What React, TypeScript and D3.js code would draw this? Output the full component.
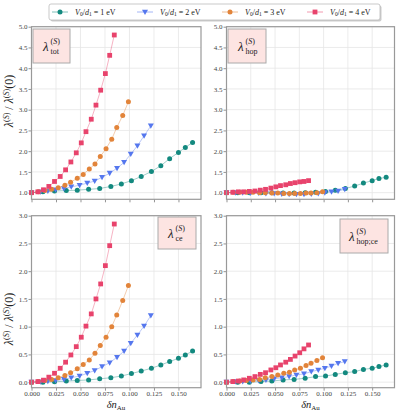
import React, { useEffect, useRef } from 'react';
import * as d3 from 'd3';

// x positions (delta n_Au) of each series
const xTeal = [0, 0.0116, 0.0235, 0.0355, 0.0467, 0.0583, 0.0696, 0.081, 0.0917, 0.102, 0.112, 0.1224, 0.132, 0.141, 0.150, 0.157, 0.1644];
const xBlue = [0, 0.0092, 0.0167, 0.0246, 0.0331, 0.0406, 0.0491, 0.0569, 0.0645, 0.072, 0.0798, 0.0873, 0.0945, 0.1013, 0.1081, 0.1149, 0.1218];
const xOrange = [0, 0.0068, 0.0136, 0.0205, 0.0273, 0.0341, 0.0399, 0.0467, 0.0528, 0.059, 0.0648, 0.0702, 0.0761, 0.0819, 0.087, 0.0931, 0.0989];
const xRed = [0, 0.0065, 0.0122, 0.0177, 0.0235, 0.0293, 0.0348, 0.0402, 0.0457, 0.0508, 0.0556, 0.061, 0.0658, 0.0706, 0.0754, 0.0798, 0.0845];

// lambda_tot
const totTeal = [1.0, 1.02, 1.04, 1.05, 1.06, 1.08, 1.10, 1.15, 1.21, 1.29, 1.39, 1.51, 1.65, 1.82, 1.97, 2.09, 2.21];
const totBlue = [1.0, 1.02, 1.04, 1.07, 1.10, 1.14, 1.18, 1.23, 1.28, 1.37, 1.47, 1.59, 1.73, 1.93, 2.13, 2.37, 2.61];
const totOrange = [1.0, 1.02, 1.05, 1.08, 1.12, 1.18, 1.25, 1.35, 1.44, 1.57, 1.69, 1.87, 2.06, 2.29, 2.57, 2.86, 3.19];
const totRed = [1.0, 1.02, 1.07, 1.15, 1.27, 1.39, 1.55, 1.74, 1.96, 2.20, 2.47, 2.77, 3.11, 3.47, 3.87, 4.31, 4.80];

// lambda_hop
const hopTeal = [1.0, 1.0, 1.0, 1.0, 1.0, 0.99, 0.99, 1.0, 1.01, 1.03, 1.06, 1.10, 1.16, 1.23, 1.29, 1.34, 1.37];
const hopBlue = [1.0, 1.0, 1.0, 0.99, 0.99, 0.98, 0.98, 0.97, 0.96, 0.96, 0.96, 0.97, 0.98, 1.0, 1.02, 1.04, 1.08];
const hopOrange = [1.0, 1.01, 1.01, 1.01, 1.01, 1.0, 1.0, 0.99, 0.99, 0.98, 0.98, 0.98, 0.98, 0.99, 0.99, 1.0, 1.02];
const hopRed = [1.0, 1.01, 1.02, 1.02, 1.03, 1.04, 1.06, 1.08, 1.11, 1.14, 1.17, 1.19, 1.22, 1.24, 1.26, 1.27, 1.29];

// lambda_ce
const ceTeal = [0, 0, 0.005, 0.02, 0.03, 0.04, 0.06, 0.08, 0.11, 0.155, 0.20, 0.25, 0.31, 0.37, 0.43, 0.49, 0.56];
const ceBlue = [0, 0.005, 0.015, 0.03, 0.05, 0.08, 0.11, 0.16, 0.21, 0.28, 0.35, 0.45, 0.56, 0.70, 0.85, 1.01, 1.20];
const ceOrange = [0, 0.01, 0.03, 0.05, 0.08, 0.12, 0.17, 0.24, 0.32, 0.40, 0.52, 0.66, 0.81, 1.00, 1.21, 1.47, 1.74];
const ceRed = [0, 0.01, 0.036, 0.09, 0.16, 0.25, 0.36, 0.49, 0.64, 0.81, 1.01, 1.23, 1.50, 1.77, 2.10, 2.46, 2.85];

// lambda_hop;ce
const hopceTeal = [0, 0, 0, 0.01, 0.02, 0.04, 0.05, 0.07, 0.10, 0.11, 0.14, 0.17, 0.19, 0.23, 0.25, 0.28, 0.31];
const hopceBlue = [0, 0.01, 0.01, 0.02, 0.03, 0.04, 0.06, 0.08, 0.10, 0.13, 0.15, 0.19, 0.22, 0.25, 0.29, 0.34, 0.37];
const hopceOrange = [0, 0.01, 0.02, 0.03, 0.04, 0.05, 0.08, 0.10, 0.13, 0.16, 0.18, 0.22, 0.25, 0.30, 0.34, 0.39, 0.44];
const hopceRed = [0, 0.01, 0.02, 0.04, 0.07, 0.10, 0.14, 0.17, 0.22, 0.26, 0.31, 0.36, 0.41, 0.47, 0.53, 0.60, 0.67];

const seriesNames = ['1', '2', '3', '4'];
const seriesColors = ['#13897f', '#5577ee', '#e2843a', '#e8436c'];
const seriesMarkers = ['circle', 'triangle', 'circle', 'square'];
const seriesX = [xTeal, xBlue, xOrange, xRed];

const xTicks = [0, 0.025, 0.05, 0.075, 0.1, 0.125, 0.15];
const topYTicks = [1.0, 1.5, 2.0, 2.5, 3.0, 3.5, 4.0, 4.5, 5.0];
const bottomYTicks = [0.0, 0.5, 1.0, 1.5, 2.0, 2.5, 3.0];

const SERIF = '"Liberation Serif", "DejaVu Serif", serif';

const App = () => {
    const svgRef = useRef(null);

    useEffect(() => {
        const svg = d3.select(svgRef.current);
        svg.selectAll('*').remove();

        const panels = [
            { ys: [totTeal, totBlue, totOrange, totRed], sub: 'tot', x0: 31.5, x1: 201, y0: 26.7, y1: 199.3, ydom: [0.84, 5.0], yticks: topYTicks, xlab: false, box: [33, 29, 37, 34] },
            { ys: [hopTeal, hopBlue, hopOrange, hopRed], sub: 'hop', x0: 226.5, x1: 394.5, y0: 26.7, y1: 199.3, ydom: [0.84, 5.0], yticks: topYTicks, xlab: false, box: [228, 29, 38, 34] },
            { ys: [ceTeal, ceBlue, ceOrange, ceRed], sub: 'ce', x0: 31.5, x1: 201, y0: 215.7, y1: 387.7, ydom: [-0.1, 3.0], yticks: bottomYTicks, xlab: true, box: [158, 217, 38, 32] },
            { ys: [hopceTeal, hopceBlue, hopceOrange, hopceRed], sub: 'hop;ce', x0: 226.5, x1: 394.5, y0: 215.7, y1: 387.7, ydom: [-0.1, 3.0], yticks: bottomYTicks, xlab: true, box: [340, 219, 48, 34] },
        ];

        const drawMarker = (g, type, color, cx, cy) => {
            if (type === 'circle') {
                g.append('circle').attr('cx', cx).attr('cy', cy).attr('r', 2.5).attr('fill', color);
            } else if (type === 'square') {
                g.append('rect').attr('x', cx - 2.4).attr('y', cy - 2.4).attr('width', 4.8).attr('height', 4.8).attr('fill', color);
            } else {
                g.append('path')
                    .attr('d', `M${cx - 3},${cy - 2.3}L${cx + 3},${cy - 2.3}L${cx},${cy + 3}Z`)
                    .attr('fill', color);
            }
        };

        panels.forEach(p => {
            const x = d3.scaleLinear().domain([0, 0.173]).range([p.x0, p.x1]);
            const y = d3.scaleLinear().domain(p.ydom).range([p.y1, p.y0]);
            const g = svg.append('g');

            // grid
            g.selectAll('.gx').data(xTicks).join('line')
                .attr('x1', d => x(d)).attr('x2', d => x(d))
                .attr('y1', p.y0).attr('y2', p.y1)
                .attr('stroke', '#e6e6e6').attr('stroke-width', 0.8);
            g.selectAll('.gy').data(p.yticks).join('line')
                .attr('x1', p.x0).attr('x2', p.x1)
                .attr('y1', d => y(d)).attr('y2', d => y(d))
                .attr('stroke', '#e6e6e6').attr('stroke-width', 0.8);

            // axes
            const xAxis = d3.axisBottom(x).tickValues(xTicks).tickSize(3)
                .tickFormat(p.xlab ? d3.format('.3f') : () => '');
            const gx = g.append('g').attr('transform', `translate(0,${p.y1})`).call(xAxis);
            const yAxis = d3.axisLeft(y).tickValues(p.yticks).tickSize(3).tickFormat(d3.format('.1f'));
            const gy = g.append('g').attr('transform', `translate(${p.x0},0)`).call(yAxis);
            [gx, gy].forEach(a => {
                a.select('.domain').remove();
                a.selectAll('line').attr('stroke', '#666').attr('stroke-width', 0.7);
                a.selectAll('text').attr('fill', '#444').style('font-family', SERIF).style('font-size', '7px');
            });
            gy.selectAll('text').attr('x', -4);
            gx.selectAll('text').attr('y', 3.5);

            // series
            const line = d3.line().x(d => x(d[0])).y(d => y(d[1]));
            p.ys.forEach((vals, si) => {
                const pts = seriesX[si].map((xv, i) => [xv, vals[i]]);
                const sg = g.append('g');
                sg.append('path').attr('d', line(pts)).attr('fill', 'none')
                    .attr('stroke', seriesColors[si]).attr('stroke-opacity', 0.45).attr('stroke-width', 0.9);
                pts.forEach(pt => drawMarker(sg, seriesMarkers[si], seriesColors[si], x(pt[0]), y(pt[1])));
            });

            // frame
            g.append('rect').attr('x', p.x0).attr('y', p.y0)
                .attr('width', p.x1 - p.x0).attr('height', p.y1 - p.y0)
                .attr('fill', 'none').attr('stroke', '#999').attr('stroke-width', 1.2);

            // annotation box
            const [bx, by, bw, bh] = p.box;
            g.append('rect').attr('x', bx).attr('y', by).attr('width', bw).attr('height', bh)
                .attr('fill', '#fde4e2').attr('stroke', '#aaa').attr('stroke-width', 1);
            const lx = bx + (p.sub === 'hop;ce' ? 9 : 10);
            const ly = by + bh / 2 + 5;
            const tg = g.append('g').style('font-family', SERIF).attr('fill', '#222');
            tg.append('text').attr('x', lx).attr('y', ly).style('font-size', '13px').style('font-style', 'italic').text('λ');
            const sup = tg.append('text').attr('x', lx + 7.5).attr('y', ly - 7).style('font-size', '8px');
            sup.append('tspan').text('(');
            sup.append('tspan').style('font-style', 'italic').text('S');
            sup.append('tspan').text(')');
            tg.append('text').attr('x', lx + 7.5).attr('y', ly + 3).style('font-size', '8px').text(p.sub);
        });

        // y labels
        [101, 319].forEach(cy => {
            const t = svg.append('text')
                .attr('transform', `translate(13,${cy}) rotate(-90)`)
                .attr('text-anchor', 'middle')
                .style('font-family', SERIF).style('font-size', '12px').attr('fill', '#222');
            t.append('tspan').style('font-style', 'italic').text('λ');
            t.append('tspan').attr('dy', -4.5).style('font-size', '8px').text('(');
            t.append('tspan').style('font-size', '8px').style('font-style', 'italic').text('S');
            t.append('tspan').style('font-size', '8px').text(')');
            t.append('tspan').attr('dy', 4.5).text(' / ');
            t.append('tspan').style('font-style', 'italic').text('λ');
            t.append('tspan').attr('dy', -4.5).style('font-size', '8px').text('(');
            t.append('tspan').style('font-size', '8px').style('font-style', 'italic').text('S');
            t.append('tspan').style('font-size', '8px').text(')');
            t.append('tspan').attr('dy', 4.5).text('(0)');
        });

        // x labels
        [116, 310.5].forEach(cx => {
            const t = svg.append('text').attr('x', cx).attr('y', 408).attr('text-anchor', 'middle')
                .style('font-family', SERIF).style('font-size', '10.5px').attr('fill', '#222');
            t.append('tspan').style('font-style', 'italic').text('δn');
            t.append('tspan').attr('dy', 2).style('font-size', '7px').text('Au');
        });

        // legend
        const lg = svg.append('g');
        lg.append('rect').attr('x', 50.5).attr('y', 5.5).attr('width', 331).attr('height', 16).attr('rx', 2).attr('fill', '#ccc');
        lg.append('rect').attr('x', 49).attr('y', 4).attr('width', 331).attr('height', 16).attr('rx', 2)
            .attr('fill', 'white').attr('stroke', '#bbb').attr('stroke-width', 0.8);
        const legendX = [52, 137, 222, 307];
        seriesNames.forEach((name, i) => {
            const lx = legendX[i];
            lg.append('line').attr('x1', lx).attr('x2', lx + 16).attr('y1', 12).attr('y2', 12)
                .attr('stroke', seriesColors[i]).attr('stroke-opacity', 0.6).attr('stroke-width', 0.9);
            drawMarker(lg, seriesMarkers[i], seriesColors[i], lx + 8, 12);
            const t = lg.append('text').attr('x', lx + 23).attr('y', 14.5)
                .style('font-family', SERIF).style('font-size', '8px').attr('fill', '#222');
            t.append('tspan').style('font-style', 'italic').text('V');
            t.append('tspan').attr('dy', 1.5).style('font-size', '5.5px').text('0');
            t.append('tspan').attr('dy', -1.5).text('/');
            t.append('tspan').style('font-style', 'italic').text('d');
            t.append('tspan').attr('dy', 1.5).style('font-size', '5.5px').text('1');
            t.append('tspan').attr('dy', -1.5).text(` = ${name} eV`);
        });
    }, []);

    return (
        <svg ref={svgRef} width={399} height={414}
            style={{ position: 'absolute', left: 0, top: 0, background: 'white' }} />
    );
};

export default App;
